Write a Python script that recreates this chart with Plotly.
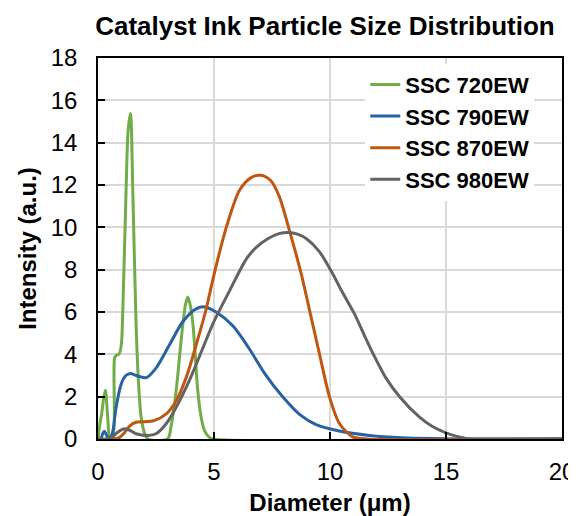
import plotly.graph_objects as go

# ---- data ----
series_names = ["SSC 720EW", "SSC 790EW", "SSC 870EW", "SSC 980EW"]
series_colors = ["#70AD47", "#2862A4", "#C0560F", "#636363"]

d_720 = [0, 0.08, 0.16, 0.24, 0.32, 0.42, 0.52, 0.64, 0.71, 0.78, 0.9, 1.0, 1.07, 1.21, 1.30, 1.40, 1.50, 1.64, 1.75, 1.86, 2.0, 2.15, 3.0, 3.15, 3.37, 3.55, 3.66, 3.78, 3.87, 3.98, 4.09, 4.3, 4.45, 4.59, 4.8, 4.95, 20]
v_720 = [0, 0.7, 1.2, 1.9, 2.3, 1.0, 0, 0, 3.8, 3.95, 4.0, 4.4, 6.1, 11.75, 14.6, 15.38, 11.75, 5.45, 2.6, 1.03, 0.3, 0, 0, 0.6, 2.3, 4.3, 5.45, 6.4, 6.71, 6.3, 5.45, 2.3, 1.0, 0.4, 0.08, 0, 0]

d_790 = [0, 0.12, 0.2, 0.28, 0.36, 0.45, 0.6, 0.78, 1.0, 1.2, 1.4, 1.64, 2.08, 2.5, 3.08, 3.66, 4.23, 4.6, 5.09, 5.81, 6.5, 7.18, 7.97, 8.7, 9.4, 10.4, 11.7, 13.1, 14.5, 16, 20]
v_790 = [0, 0, 0.25, 0.37, 0.2, 0, 0.2, 1.5, 2.6, 3.0, 3.1, 3.0, 2.9, 3.35, 4.45, 5.55, 6.15, 6.24, 6.0, 5.35, 4.3, 3.1, 1.98, 1.15, 0.68, 0.38, 0.17, 0.06, 0.02, 0, 0]

d_870 = [0, 0.7, 0.9, 1.1, 1.35, 1.6, 2.0, 2.4, 2.94, 3.37, 3.8, 4.06, 4.35, 4.63, 5.03, 5.53, 6.1, 6.6, 7.03, 7.45, 7.82, 8.25, 8.76, 9.12, 9.55, 9.98, 10.41, 10.98, 11.6, 20]
v_870 = [0, 0, 0.05, 0.25, 0.6, 0.78, 0.82, 0.86, 1.19, 1.8, 2.9, 3.8, 4.9, 6.0, 7.9, 10.0, 11.75, 12.35, 12.46, 12.2, 11.44, 9.86, 7.8, 6.08, 4.0, 1.98, 0.72, 0.1, 0, 0]

d_980 = [0, 0.5, 0.85, 1.14, 1.4, 1.64, 2.15, 2.5, 2.94, 3.37, 3.94, 4.52, 5.02, 5.67, 6.39, 6.82, 7.3, 7.8, 8.2, 8.6, 9.0, 9.55, 10.12, 10.5, 11.06, 11.5, 11.87, 12.4, 13.0, 13.86, 14.4, 15.0, 15.87, 17, 20]
v_980 = [0, 0, 0.32, 0.48, 0.4, 0.25, 0.17, 0.25, 0.72, 1.5, 2.77, 4.3, 5.6, 7.0, 8.5, 9.05, 9.45, 9.7, 9.76, 9.68, 9.45, 8.84, 7.8, 7.0, 5.9, 4.85, 4.0, 2.9, 2.0, 1.03, 0.6, 0.29, 0.03, 0, 0]

x_ticks = [0, 5, 10, 15, 20]
y_ticks = [0, 2, 4, 6, 8, 10, 12, 14, 16, 18]

xs = [d_720, d_790, d_870, d_980]
ys = [v_720, v_790, v_870, v_980]

fig = go.Figure()
for name, color, x, y in zip(series_names, series_colors, xs, ys):
    fig.add_trace(go.Scatter(
        x=x, y=y, mode="lines", name="<b>" + name + "</b>", legendgroup=name,
        line=dict(color=color, width=3, shape="spline", smoothing=0.8),
    ))

FONT = "Liberation Sans, Arial, sans-serif"
# the page body has an 8px margin, so the figure is 8px smaller than the window
fig.update_layout(
    width=568, height=508,
    margin=dict(l=90, r=14, t=50, b=77),
    paper_bgcolor="white", plot_bgcolor="white",
    font=dict(family=FONT, color="black"),
    title=dict(text="<b>Catalyst Ink Particle Size Distribution</b>",
               x=0.558, xanchor="center", y=0.964, yanchor="middle",
               font=dict(size=26, family=FONT, color="black")),
    showlegend=True,
    legend=dict(x=0.576, y=0.985, xanchor="left", yanchor="top",
                bgcolor="white", borderwidth=0, tracegroupgap=0,
                font=dict(size=22, family=FONT, color="black"),
                itemwidth=30),
)
fig.update_xaxes(
    range=[0, 20], tickvals=x_ticks, ticktext=[str(t) for t in x_ticks],
    showgrid=True, gridcolor="#d9d9d9", gridwidth=1.5,
    showline=True, linecolor="black", linewidth=1.5, mirror=True,
    ticks="inside", ticklen=7, tickwidth=1.5, tickcolor="black",
    ticklabelstandoff=10,
    tickfont=dict(size=24, family=FONT, color="black"),
    title=dict(text="<b>Diameter (μm)</b>", font=dict(size=24, family=FONT, color="black"), standoff=17),
    zeroline=False, automargin=False,
)
fig.update_yaxes(
    range=[0, 18], tickvals=y_ticks, ticktext=[str(t) for t in y_ticks],
    showgrid=True, gridcolor="#d9d9d9", gridwidth=1.5,
    showline=True, linecolor="black", linewidth=1.5, mirror=True,
    ticks="inside", ticklen=7, tickwidth=1.5, tickcolor="black",
    ticklabelstandoff=14,
    tickfont=dict(size=24, family=FONT, color="black"),
    title=dict(text="<b>Intensity (a.u.)</b>", font=dict(size=24, family=FONT, color="black"), standoff=7),
    zeroline=False, automargin=False,
)

fig.write_html("out.html")
